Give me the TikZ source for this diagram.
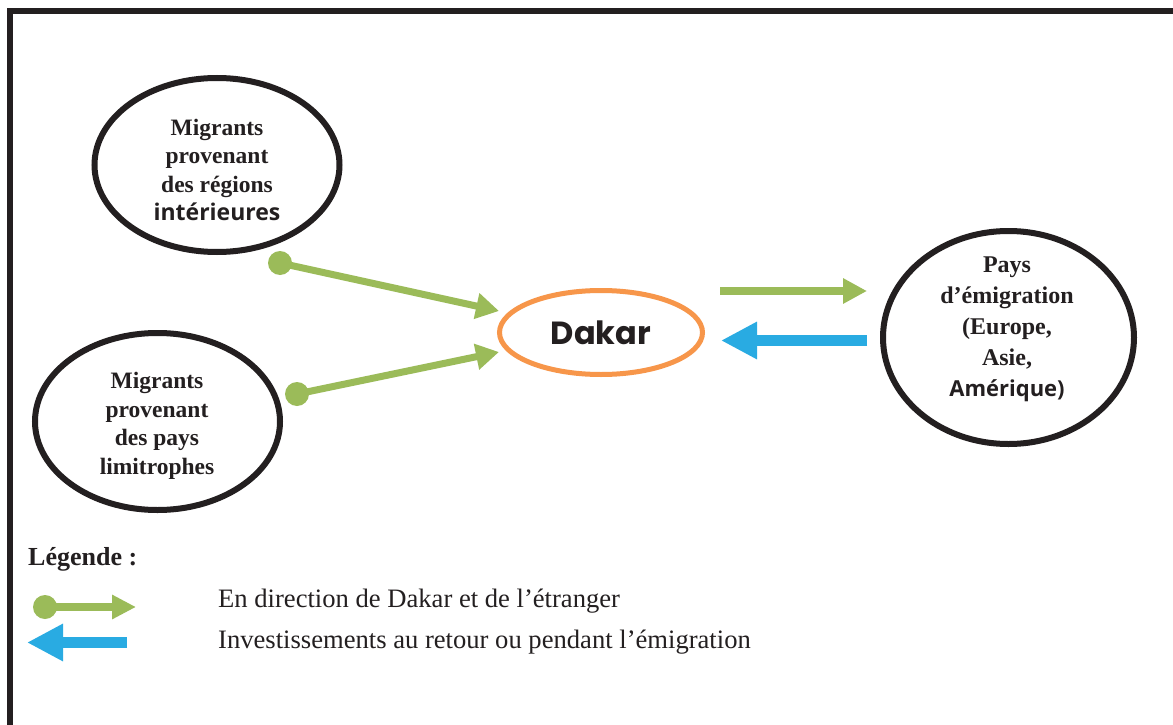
\documentclass[tikz,border=0pt]{standalone}
\usepackage{fontspec}
\setmainfont{Liberation Serif}
\newfontfamily\opensans{Open Sans}
\newfontfamily\poppins{Poppins}
\usetikzlibrary{shapes.geometric,arrows.meta}
\definecolor{mgreen}{HTML}{9BBB59}
\definecolor{mblue}{HTML}{29ABE2}
\definecolor{morange}{HTML}{F7964A}
\definecolor{mblack}{HTML}{231F20}
\tikzset{
  region/.style={draw=mblack, line width=6pt, ellipse, inner sep=0pt},
  lbl/.style={font=\bfseries\fontsize{23.5}{28.5}\selectfont, align=center, text=mblack, inner sep=0pt},
  greenarrow/.style={draw=mgreen, line width=7pt, -{Triangle[length=23pt,width=25pt]}},
  greenarrowb/.style={draw=mgreen, line width=8pt, -{Triangle[length=24pt,width=24pt]}},
  bluearrow/.style={draw=mblue, line width=11.5pt, -{Triangle[length=36pt,width=35pt]}},
  dot/.style={fill=mgreen},
  legtext/.style={anchor=base west, inner sep=0pt, text=mblack, font=\fontsize{26.6}{30}\selectfont}
}
\begin{document}
\begin{tikzpicture}[x=1pt,y=-1pt]
\useasboundingbox (0,0) rectangle (1173,725);
\fill[white] (0,0) rectangle (1173,725);
\draw[mblack, line width=6pt] (10,725) -- (10,11) -- (1173,11);

% regions
\node[region, minimum width=245pt, minimum height=174pt] (interieur) at (217,165) {};
\node[lbl] (interieurT) at (217,170) {Migrants\\provenant\\des régions\\{\opensans\bfseries\fontsize{23}{28.5}\selectfont intérieures}};

\node[region, minimum width=245pt, minimum height=177pt] (limitrophes) at (157.5,421.5) {};
\node[lbl] (limitrophesT) at (157,426) {Migrants\\provenant\\des pays\\limitrophes};

\node[region, minimum width=251pt, minimum height=213pt] (pays) at (1008.5,337.5) {};
\node[lbl, font=\bfseries\fontsize{24}{31}\selectfont] (paysT) at (1007,329) {Pays\\d’émigration\\(Europe,\\Asie,\\{\opensans\bfseries\fontsize{22}{31}\selectfont Amérique)}};

\node[draw=morange, line width=5pt, ellipse, minimum width=203pt, minimum height=84pt, inner sep=0pt,
      font=\poppins\bfseries\fontsize{32}{38}\selectfont, text=mblack] (dakar) at (601,332.5) {Dakar};

% flows
\coordinate (s1) at (280,263); \coordinate (t1) at (499,311);
\coordinate (s2) at (297,394); \coordinate (t2) at (499,352);
\coordinate (s3) at (720,291); \coordinate (t3) at (867,291);
\coordinate (s4) at (867,340.5); \coordinate (t4) at (721,340.5);
\fill[dot] (s1) circle (12);
\draw[greenarrow] (s1) -- (t1);
\fill[dot] (s2) circle (12);
\draw[greenarrow] (s2) -- (t2);
\draw[greenarrowb] (s3) -- (t3);
\draw[bluearrow] (s4) -- (t4);

% legend
\node[anchor=base west, inner sep=0pt, text=mblack, font=\bfseries\fontsize{26}{30}\selectfont] (leg) at (28,565) {Légende :};
\coordinate (l1s) at (45,607); \coordinate (l1t) at (136,607);
\coordinate (l2s) at (127,642.5); \coordinate (l2t) at (27,642.5);
\fill[dot] (l1s) circle (12);
\draw[mgreen, line width=8pt, -{Triangle[length=24pt,width=23pt]}] (l1s) -- (l1t);
\draw[mblue, line width=11pt, -{Triangle[length=36pt,width=35pt]}] (l2s) -- (l2t);
\node[legtext] (leg1) at (218,607) {En direction de Dakar et de l’étranger};
\node[legtext] (leg2) at (218,648) {Investissements au retour ou pendant l’émigration};
\end{tikzpicture}
\end{document}
